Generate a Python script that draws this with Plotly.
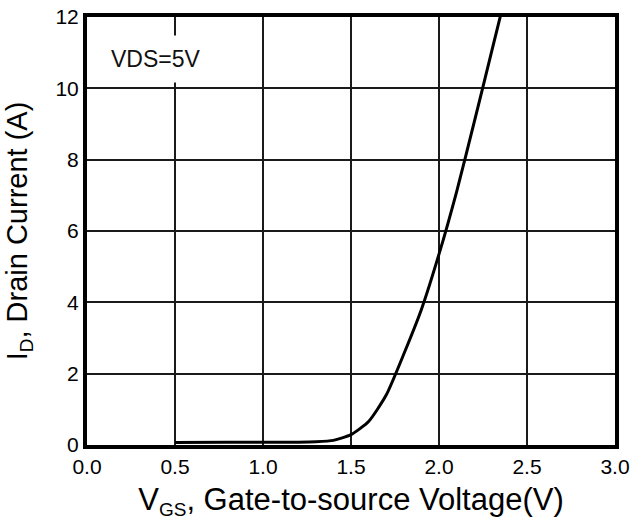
import plotly.graph_objects as go

vgs = [0.5, 0.8, 1.0, 1.2, 1.3, 1.4, 1.5, 1.6, 1.7, 1.8, 1.9, 2.0, 2.1, 2.2, 2.3, 2.35]
i_d = [0.07, 0.08, 0.08, 0.08, 0.09, 0.13, 0.29, 0.66, 1.40, 2.55, 3.8, 5.35, 7.1, 9.05, 11.05, 12.05]

x_ticks = [0.0, 0.5, 1.0, 1.5, 2.0, 2.5, 3.0]
x_tick_text = ["0.0", "0.5", "1.0", "1.5", "2.0", "2.5", "3.0"]
y_ticks = [0, 2, 4, 6, 8, 10, 12]

fig = go.Figure()
fig.add_trace(go.Scatter(x=vgs, y=i_d, mode="lines",
                         line=dict(color="black", width=3, shape="spline", smoothing=0.6),
                         showlegend=False, hoverinfo="skip"))

fig.add_annotation(x=0.0, y=10.82, xref="x", yref="y", text="VDS=5V", showarrow=False,
                   xanchor="left", xshift=13, font=dict(size=23, color="#111"),
                   bgcolor="white", borderpad=10)

font = "Liberation Sans, Arial, sans-serif"
fig.update_layout(
    width=638, height=523,
    margin=dict(l=87, r=23, t=17, b=78),
    paper_bgcolor="white", plot_bgcolor="white",
    font=dict(family=font, size=21, color="black"),
    xaxis=dict(range=[0, 3], tickvals=x_ticks, ticktext=x_tick_text, automargin=False,
               showgrid=True, gridcolor="#1a1a1a", gridwidth=1.5,
               showline=True, linecolor="black", linewidth=4, mirror=True,
               zeroline=False, ticks="", ticklen=0, tickfont=dict(size=21),
               title=dict(text="V<sub><span style='font-size:19px'>GS</span></sub>, Gate-to-source Voltage(V)",
                          standoff=12, font=dict(size=31))),
    yaxis=dict(range=[0, 12], tickvals=y_ticks, automargin=False,
               showgrid=True, gridcolor="#1a1a1a", gridwidth=1.5,
               showline=True, linecolor="black", linewidth=4, mirror=True,
               zeroline=False, ticks="", ticklen=0, tickfont=dict(size=21),
               title=dict(text="I<sub><span style='font-size:19px'>D</span></sub>, Drain Current (A)",
                          standoff=20, font=dict(size=29))),
)

fig.write_html("out.html", config={"displayModeBar": False},
               post_script="document.body.style.margin='0';")
